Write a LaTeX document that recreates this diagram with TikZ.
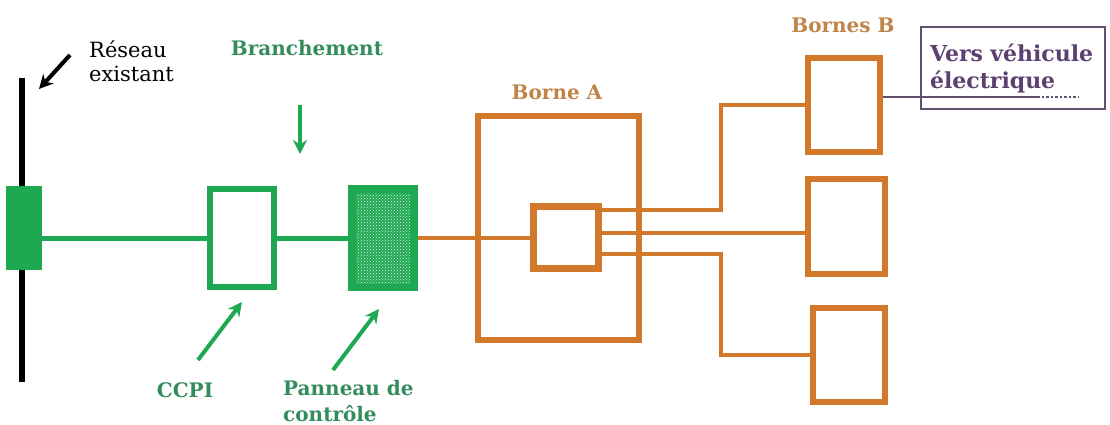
\documentclass[tikz,border=0pt]{standalone}
\usepackage{fontspec}
\setmainfont{DejaVu Serif}
\usepackage{tikz}
\usetikzlibrary{arrows.meta, positioning, patterns}
\definecolor{gshape}{RGB}{30,168,82}
\definecolor{gtext}{RGB}{52,140,92}
\definecolor{oshape}{RGB}{210,120,42}
\definecolor{otext}{RGB}{190,132,72}
\definecolor{ptext}{RGB}{92,64,112}
\definecolor{pline}{RGB}{96,80,110}
\tikzset{
      gbox/.style={
		draw=gshape,
		line width=6pt,
		inner sep=0pt,
		minimum width={#1},
		minimum height={98pt},
	  },
      obox/.style={
		draw=oshape,
		line width=6pt,
		inner sep=0pt,
		minimum width={#1},
		minimum height={94pt},
	  },
      gwire/.style={draw=gshape, line width=5pt},
      owire/.style={draw=oshape, line width=4pt},
      lbl/.style={font=\bfseries\fontsize{20}{26}\selectfont, align=left, inner sep=0pt},
      pointer/.style={line width=4pt, -{Stealth[length=14pt,width=14pt]}},
  	}

\begin{document}
\begin{tikzpicture}[x=1pt, y=-1pt]
    \useasboundingbox (0,0) rectangle (1110,425);
    % existing network
    \draw[line width=6pt] (22,78) coordinate (rtop) -- (22,382) coordinate (rbot);
    \node [fill=gshape, minimum width=36pt, minimum height=84pt, inner sep=0pt] (res) at (24,228) {};
    \node [lbl, font=\fontsize{21}{24}\selectfont, anchor=west] (reslbl) at (89,61) {Réseau\\existant};
    \coordinate (r1) at (70,55);
    \draw[pointer] (r1) -- (39,89);

    % connection
    \node [gbox=64pt] (ccpi) at (242,238) {};
    \node [gbox=64pt, minimum height=100pt, fill=gshape] (pan) at (383,238) {};
    \fill[pattern=crosshatch dots, pattern color=white!90!gshape]
        ([shift={(8pt,-8pt)}]pan.north west) rectangle ([shift={(-8pt,8pt)}]pan.south east);
    \draw[gwire] (ccpi.west -| res.east) -- (ccpi.west);
    \draw[gwire] (ccpi.east) -- (pan.west);
    \node [lbl, text=gtext] (bra) at (307,48) {Branchement};
    \coordinate (bratop) at (300,105);
    \draw[pointer, gshape] (bratop) -- (300,154) coordinate (brabot);
    \node [lbl, text=gtext] (ccpilbl) at (185,390) {CCPI};
    \node [lbl, text=gtext, anchor=north west] (panlbl) at (283,380) {Panneau de\\contrôle};
    \coordinate (c1) at (198,360);
    \coordinate (c2) at (333,370);
    \draw[pointer, gshape] (c1) -- (242,302);
    \draw[pointer, gshape] (c2) -- (379,309);

    % terminal A
    \node [obox=161pt, minimum height=223pt] (ba) at (558,228) {};
    \node [obox=65pt, minimum height=62pt, line width=7pt] (sm) at (566,237) {};
    \node [lbl, text=otext] (balbl) at (557,92) {Borne A};
    \draw[owire] (pan.east) -- (pan.east -| sm.west);

    % terminals B
    \node [obox=72pt] (b1) at (844,105) {};
    \node [obox=77pt, minimum height=95pt] (b2) at (846,226) {};
    \node [obox=72pt] (b3) at (849,355) {};
    \node [lbl, text=otext] (bblbl) at (843,25) {Bornes B};
    \coordinate (j1) at (721,0);
    \coordinate (s1) at ([yshift=27pt]sm.east);
    \coordinate (s2) at ([yshift=4pt]sm.east);
    \coordinate (s3) at ([yshift=-17pt]sm.east);
    \draw[owire] (s1) -| (j1 |- b1.west) -- (b1.west);
    \draw[owire] (s2) -- (s2 -| b2.west);
    \draw[owire] (s3) -| (j1 |- b3.west) -- (b3.west);

    % vehicle
    \node [lbl, font=\bfseries\fontsize{22}{27}\selectfont, text=ptext, draw=pline, line width=1.5pt,
           minimum height=82pt, text width=166pt, inner xsep=9pt] (veh) at (1013,68) {Vers véhicule\\électrique};
    \coordinate (p1) at ([yshift=8pt]b1.east);
    \draw[pline, line width=2.5pt] (p1) -- ++(154,0) coordinate (p2);
    \draw[pline, line width=2.5pt, dotted] (p2) -- ++(42,0) coordinate (p3);
  \end{tikzpicture}
\end{document}
